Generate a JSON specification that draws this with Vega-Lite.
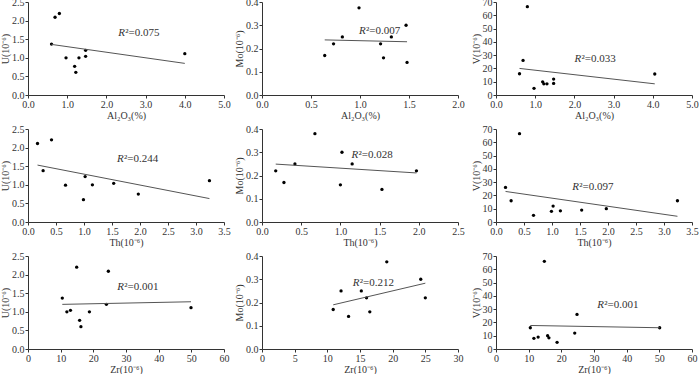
{
  "$schema": "https://vega.github.io/schema/vega-lite/v6.json",
  "padding": {"left": 0, "top": -3, "right": 0, "bottom": 0},
  "bounds": "flush",
  "columns": 3,
  "spacing": {"row": 34, "column": 38},
  "config": {
    "view": {"stroke": null},
    "axis": {"grid": false, "domainColor": "#333", "tickColor": "#333", "tickSize": 3, "labelFont": "Liberation Serif", "labelFontSize": 10, "labelColor": "#333", "titleFont": "Liberation Serif", "titleFontSize": 10, "titleFontWeight": "normal", "titleColor": "#333", "labelPadding": 1, "titlePadding": 1, "labelFlush": false, "labelOverlap": false},
    "text": {"font": "Liberation Serif", "fontSize": 11, "color": "#333", "align": "left", "baseline": "middle"},
    "point": {"filled": true, "size": 11, "color": "#000", "opacity": 1},
    "line": {"color": "#555", "strokeWidth": 1}
  },
  "concat": [
    {
      "width": 196, "height": 93,
      "encoding": {"x": {"field":"x","type":"quantitative","scale":{"domain":[0,5],"nice":false},"axis":{"title":"Al₂O₃(%)","values":[0,1,2,3,4,5],"format":".1f","labelOverlap":false}},
                   "y": {"field":"y","type":"quantitative","scale":{"domain":[0,2.5],"nice":false},"axis":{"title":"U(10⁻⁶)","values":[0,0.5,1,1.5,2,2.5],"format":".1f","labelOverlap":false}}},
      "layer": [
        {"data": {"values": [{"x":0.6,"y":1.37},{"x":0.69,"y":2.09},{"x":0.8,"y":2.19},{"x":0.97,"y":1.0},{"x":1.19,"y":0.77},{"x":1.22,"y":0.61},{"x":1.3,"y":1.0},{"x":1.47,"y":1.2},{"x":1.47,"y":1.04},{"x":4.0,"y":1.11}]}, "mark": "point"},
        {"data": {"values": [{"x":0.6,"y":1.36},{"x":4.0,"y":0.85}]}, "mark": "line"},
        {"data": {"values": [{"x":2.3,"y":1.66,"t":"²=0.075"}]}, "mark": {"type":"text","text":"R","fontStyle":"italic"}},
        {"data": {"values": [{"x":2.3,"y":1.66,"t":"²=0.075"}]}, "mark": {"type":"text","dx":7}, "encoding": {"text":{"field":"t"}}}
      ]
    },
    {
      "width": 196, "height": 93,
      "encoding": {"x": {"field":"x","type":"quantitative","scale":{"domain":[0,2],"nice":false},"axis":{"title":"Al₂O₃(%)","values":[0,0.5,1,1.5,2],"format":".1f","labelOverlap":false}},
                   "y": {"field":"y","type":"quantitative","scale":{"domain":[0,0.4],"nice":false},"axis":{"title":"Mo(10⁻⁶)","values":[0,0.1,0.2,0.3,0.4],"format":".1f","labelOverlap":false}}},
      "layer": [
        {"data": {"values": [{"x":0.64,"y":0.17},{"x":0.73,"y":0.22},{"x":0.82,"y":0.25},{"x":0.99,"y":0.375},{"x":1.21,"y":0.22},{"x":1.24,"y":0.16},{"x":1.32,"y":0.25},{"x":1.47,"y":0.30},{"x":1.48,"y":0.14}]}, "mark": "point"},
        {"data": {"values": [{"x":0.64,"y":0.237},{"x":1.48,"y":0.229}]}, "mark": "line"},
        {"data": {"values": [{"x":0.99,"y":0.276,"t":"²=0.007"}]}, "mark": {"type":"text","text":"R","fontStyle":"italic"}},
        {"data": {"values": [{"x":0.99,"y":0.276,"t":"²=0.007"}]}, "mark": {"type":"text","dx":7}, "encoding": {"text":{"field":"t"}}}
      ]
    },
    {
      "width": 196, "height": 93,
      "encoding": {"x": {"field":"x","type":"quantitative","scale":{"domain":[0,5],"nice":false},"axis":{"title":"Al₂O₃(%)","values":[0,1,2,3,4,5],"format":".1f","labelOverlap":false}},
                   "y": {"field":"y","type":"quantitative","scale":{"domain":[0,70],"nice":false},"axis":{"title":"V(10⁻⁶)","values":[0,10,20,30,40,50,60,70],"format":"d","labelOverlap":false}}},
      "layer": [
        {"data": {"values": [{"x":0.6,"y":16},{"x":0.69,"y":26},{"x":0.8,"y":66.5},{"x":0.97,"y":5},{"x":1.19,"y":9.9},{"x":1.22,"y":8.4},{"x":1.3,"y":8.4},{"x":1.47,"y":12},{"x":1.47,"y":8.7},{"x":4.05,"y":15.8}]}, "mark": "point"},
        {"data": {"values": [{"x":0.6,"y":20},{"x":4.05,"y":8.4}]}, "mark": "line"},
        {"data": {"values": [{"x":2.0,"y":27,"t":"²=0.033"}]}, "mark": {"type":"text","text":"R","fontStyle":"italic"}},
        {"data": {"values": [{"x":2.0,"y":27,"t":"²=0.033"}]}, "mark": {"type":"text","dx":7}, "encoding": {"text":{"field":"t"}}}
      ]
    },
    {
      "width": 196, "height": 93,
      "encoding": {"x": {"field":"x","type":"quantitative","scale":{"domain":[0,3.5],"nice":false},"axis":{"title":"Th(10⁻⁶)","values":[0,0.5,1,1.5,2,2.5,3,3.5],"format":".1f","labelOverlap":false}},
                   "y": {"field":"y","type":"quantitative","scale":{"domain":[0,2.5],"nice":false},"axis":{"title":"U(10⁻⁶)","values":[0,0.5,1,1.5,2,2.5],"format":".1f","labelOverlap":false}}},
      "layer": [
        {"data": {"values": [{"x":0.17,"y":2.11},{"x":0.27,"y":1.38},{"x":0.42,"y":2.21},{"x":0.67,"y":0.99},{"x":0.99,"y":0.6},{"x":1.02,"y":1.22},{"x":1.15,"y":1.0},{"x":1.53,"y":1.04},{"x":1.97,"y":0.75},{"x":3.24,"y":1.11}]}, "mark": "point"},
        {"data": {"values": [{"x":0.17,"y":1.53},{"x":3.24,"y":0.63}]}, "mark": "line"},
        {"data": {"values": [{"x":1.59,"y":1.70,"t":"²=0.244"}]}, "mark": {"type":"text","text":"R","fontStyle":"italic"}},
        {"data": {"values": [{"x":1.59,"y":1.70,"t":"²=0.244"}]}, "mark": {"type":"text","dx":7}, "encoding": {"text":{"field":"t"}}}
      ]
    },
    {
      "width": 196, "height": 93,
      "encoding": {"x": {"field":"x","type":"quantitative","scale":{"domain":[0,2.5],"nice":false},"axis":{"title":"Th(10⁻⁶)","values":[0,0.5,1,1.5,2,2.5],"format":".1f","labelOverlap":false}},
                   "y": {"field":"y","type":"quantitative","scale":{"domain":[0,0.4],"nice":false},"axis":{"title":"Mo(10⁻⁶)","values":[0,0.1,0.2,0.3,0.4],"format":".1f","labelOverlap":false}}},
      "layer": [
        {"data": {"values": [{"x":0.175,"y":0.22},{"x":0.28,"y":0.17},{"x":0.42,"y":0.25},{"x":0.675,"y":0.38},{"x":1.0,"y":0.16},{"x":1.02,"y":0.30},{"x":1.15,"y":0.25},{"x":1.53,"y":0.14},{"x":1.97,"y":0.22}]}, "mark": "point"},
        {"data": {"values": [{"x":0.175,"y":0.249},{"x":1.97,"y":0.211}]}, "mark": "line"},
        {"data": {"values": [{"x":1.14,"y":0.29,"t":"²=0.028"}]}, "mark": {"type":"text","text":"R","fontStyle":"italic"}},
        {"data": {"values": [{"x":1.14,"y":0.29,"t":"²=0.028"}]}, "mark": {"type":"text","dx":7}, "encoding": {"text":{"field":"t"}}}
      ]
    },
    {
      "width": 196, "height": 93,
      "encoding": {"x": {"field":"x","type":"quantitative","scale":{"domain":[0,3.5],"nice":false},"axis":{"title":"Th(10⁻⁶)","values":[0,0.5,1,1.5,2,2.5,3,3.5],"format":".1f","labelOverlap":false}},
                   "y": {"field":"y","type":"quantitative","scale":{"domain":[0,70],"nice":false},"axis":{"title":"V(10⁻⁶)","values":[0,10,20,30,40,50,60,70],"format":"d","labelOverlap":false}}},
      "layer": [
        {"data": {"values": [{"x":0.17,"y":26},{"x":0.27,"y":16},{"x":0.42,"y":66.5},{"x":0.67,"y":5},{"x":0.99,"y":8},{"x":1.02,"y":12},{"x":1.15,"y":8.4},{"x":1.53,"y":9},{"x":1.97,"y":10},{"x":3.24,"y":16}]}, "mark": "point"},
        {"data": {"values": [{"x":0.17,"y":23},{"x":3.24,"y":4.3}]}, "mark": "line"},
        {"data": {"values": [{"x":1.36,"y":26.7,"t":"²=0.097"}]}, "mark": {"type":"text","text":"R","fontStyle":"italic"}},
        {"data": {"values": [{"x":1.36,"y":26.7,"t":"²=0.097"}]}, "mark": {"type":"text","dx":7}, "encoding": {"text":{"field":"t"}}}
      ]
    },
    {
      "width": 196, "height": 93,
      "encoding": {"x": {"field":"x","type":"quantitative","scale":{"domain":[0,60],"nice":false},"axis":{"title":"Zr(10⁻⁶)","values":[0,10,20,30,40,50,60],"format":"d","labelOverlap":false}},
                   "y": {"field":"y","type":"quantitative","scale":{"domain":[0,2.5],"nice":false},"axis":{"title":"U(10⁻⁶)","values":[0,0.5,1,1.5,2,2.5],"format":".1f","labelOverlap":false}}},
      "layer": [
        {"data": {"values": [{"x":10.5,"y":1.37},{"x":11.9,"y":1.0},{"x":13.0,"y":1.04},{"x":14.9,"y":2.2},{"x":15.8,"y":0.77},{"x":16.2,"y":0.6},{"x":18.8,"y":1.0},{"x":24.0,"y":1.2},{"x":24.6,"y":2.09},{"x":49.9,"y":1.11}]}, "mark": "point"},
        {"data": {"values": [{"x":10.5,"y":1.2},{"x":49.9,"y":1.27}]}, "mark": "line"},
        {"data": {"values": [{"x":27.3,"y":1.66,"t":"²=0.001"}]}, "mark": {"type":"text","text":"R","fontStyle":"italic"}},
        {"data": {"values": [{"x":27.3,"y":1.66,"t":"²=0.001"}]}, "mark": {"type":"text","dx":7}, "encoding": {"text":{"field":"t"}}}
      ]
    },
    {
      "width": 196, "height": 93,
      "encoding": {"x": {"field":"x","type":"quantitative","scale":{"domain":[0,30],"nice":false},"axis":{"title":"Zr(10⁻⁶)","values":[0,5,10,15,20,25,30],"format":"d","labelOverlap":false}},
                   "y": {"field":"y","type":"quantitative","scale":{"domain":[0,0.4],"nice":false},"axis":{"title":"Mo(10⁻⁶)","values":[0,0.1,0.2,0.3,0.4],"format":".1f","labelOverlap":false}}},
      "layer": [
        {"data": {"values": [{"x":10.9,"y":0.17},{"x":12.1,"y":0.25},{"x":13.25,"y":0.14},{"x":15.2,"y":0.25},{"x":16.0,"y":0.22},{"x":16.5,"y":0.16},{"x":19.1,"y":0.375},{"x":24.3,"y":0.30},{"x":25.0,"y":0.22}]}, "mark": "point"},
        {"data": {"values": [{"x":10.9,"y":0.19},{"x":25.0,"y":0.283}]}, "mark": "line"},
        {"data": {"values": [{"x":13.9,"y":0.283,"t":"²=0.212"}]}, "mark": {"type":"text","text":"R","fontStyle":"italic"}},
        {"data": {"values": [{"x":13.9,"y":0.283,"t":"²=0.212"}]}, "mark": {"type":"text","dx":7}, "encoding": {"text":{"field":"t"}}}
      ]
    },
    {
      "width": 196, "height": 93,
      "encoding": {"x": {"field":"x","type":"quantitative","scale":{"domain":[0,60],"nice":false},"axis":{"title":"Zr(10⁻⁶)","values":[0,10,20,30,40,50,60],"format":"d","labelOverlap":false}},
                   "y": {"field":"y","type":"quantitative","scale":{"domain":[0,70],"nice":false},"axis":{"title":"V(10⁻⁶)","values":[0,10,20,30,40,50,60,70],"format":"d","labelOverlap":false}}},
      "layer": [
        {"data": {"values": [{"x":10.5,"y":16},{"x":11.6,"y":8},{"x":12.9,"y":9},{"x":14.8,"y":66},{"x":15.8,"y":10},{"x":16.2,"y":8.4},{"x":18.7,"y":5},{"x":24.1,"y":12},{"x":24.8,"y":26},{"x":50.1,"y":16}]}, "mark": "point"},
        {"data": {"values": [{"x":10.5,"y":17.7},{"x":50.1,"y":16}]}, "mark": "line"},
        {"data": {"values": [{"x":31,"y":33.3,"t":"²=0.001"}]}, "mark": {"type":"text","text":"R","fontStyle":"italic"}},
        {"data": {"values": [{"x":31,"y":33.3,"t":"²=0.001"}]}, "mark": {"type":"text","dx":7}, "encoding": {"text":{"field":"t"}}}
      ]
    }
  ]
}
